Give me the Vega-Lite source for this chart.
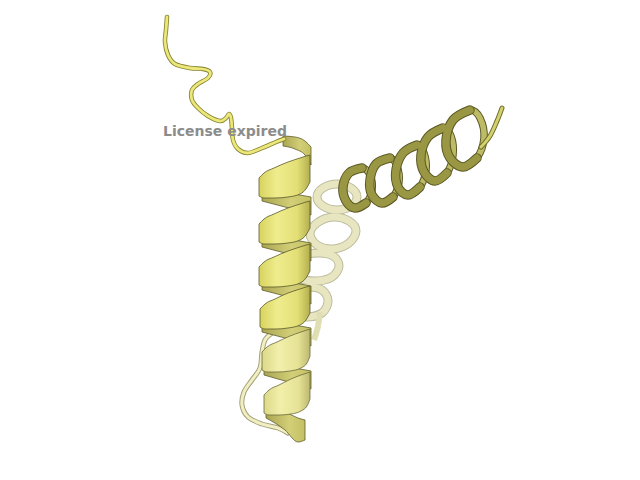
{
  "$schema": "https://vega.github.io/schema/vega-lite/v6.json",
  "width": 640,
  "height": 480,
  "padding": 0,
  "autosize": {"type": "fit", "contains": "padding"},
  "background": "white",
  "config": {"view": {"stroke": null}},
  "datasets": {
    "coil": [
      {"i": 0, "x": 167, "y": 17}, {"i": 1, "x": 166, "y": 30}, {"i": 2, "x": 165, "y": 42},
      {"i": 3, "x": 168, "y": 55}, {"i": 4, "x": 175, "y": 64}, {"i": 5, "x": 190, "y": 68},
      {"i": 6, "x": 203, "y": 69}, {"i": 7, "x": 210, "y": 72}, {"i": 8, "x": 208, "y": 78},
      {"i": 9, "x": 198, "y": 84}, {"i": 10, "x": 192, "y": 90}, {"i": 11, "x": 192, "y": 100},
      {"i": 12, "x": 198, "y": 108}, {"i": 13, "x": 208, "y": 116}, {"i": 14, "x": 220, "y": 121},
      {"i": 15, "x": 226, "y": 118}, {"i": 16, "x": 229, "y": 114}, {"i": 17, "x": 231, "y": 118},
      {"i": 18, "x": 232, "y": 128}, {"i": 19, "x": 233, "y": 140}, {"i": 20, "x": 238, "y": 149},
      {"i": 21, "x": 248, "y": 153}, {"i": 22, "x": 262, "y": 148}, {"i": 23, "x": 276, "y": 142},
      {"i": 24, "x": 284, "y": 139}
    ],
    "loop": [
      {"i": 0, "x": 272, "y": 333}, {"i": 1, "x": 265, "y": 340}, {"i": 2, "x": 262, "y": 352},
      {"i": 3, "x": 260, "y": 368}, {"i": 4, "x": 252, "y": 380}, {"i": 5, "x": 244, "y": 392},
      {"i": 6, "x": 242, "y": 405}, {"i": 7, "x": 248, "y": 417}, {"i": 8, "x": 262, "y": 424},
      {"i": 9, "x": 278, "y": 428}, {"i": 10, "x": 288, "y": 433}
    ],
    "pale": [
      {"ring": "P1", "i": 0, "x": 337, "y": 184}, {"ring": "P1", "i": 1, "x": 351, "y": 188},
      {"ring": "P1", "i": 2, "x": 357, "y": 197}, {"ring": "P1", "i": 3, "x": 351, "y": 206},
      {"ring": "P1", "i": 4, "x": 337, "y": 210}, {"ring": "P1", "i": 5, "x": 323, "y": 206},
      {"ring": "P1", "i": 6, "x": 317, "y": 197}, {"ring": "P1", "i": 7, "x": 323, "y": 188},
      {"ring": "P2", "i": 0, "x": 333, "y": 217}, {"ring": "P2", "i": 1, "x": 349, "y": 221},
      {"ring": "P2", "i": 2, "x": 356, "y": 231}, {"ring": "P2", "i": 3, "x": 349, "y": 243},
      {"ring": "P2", "i": 4, "x": 333, "y": 249}, {"ring": "P2", "i": 5, "x": 317, "y": 245},
      {"ring": "P2", "i": 6, "x": 310, "y": 234}, {"ring": "P2", "i": 7, "x": 317, "y": 223},
      {"ring": "P3", "i": 0, "x": 318, "y": 253}, {"ring": "P3", "i": 1, "x": 333, "y": 256},
      {"ring": "P3", "i": 2, "x": 339, "y": 266}, {"ring": "P3", "i": 3, "x": 332, "y": 277},
      {"ring": "P3", "i": 4, "x": 316, "y": 281}, {"ring": "P3", "i": 5, "x": 300, "y": 278},
      {"ring": "P3", "i": 6, "x": 293, "y": 268}, {"ring": "P3", "i": 7, "x": 300, "y": 257},
      {"ring": "P4", "i": 0, "x": 307, "y": 287}, {"ring": "P4", "i": 1, "x": 322, "y": 290},
      {"ring": "P4", "i": 2, "x": 328, "y": 301}, {"ring": "P4", "i": 3, "x": 322, "y": 313},
      {"ring": "P4", "i": 4, "x": 306, "y": 317}, {"ring": "P4", "i": 5, "x": 290, "y": 313},
      {"ring": "P4", "i": 6, "x": 284, "y": 302}, {"ring": "P4", "i": 7, "x": 290, "y": 291}
    ],
    "paletail": [
      {"i": 0, "x": 320, "y": 312}, {"i": 1, "x": 318, "y": 326}, {"i": 2, "x": 314, "y": 340}
    ],
    "olive": [
      {"ring": "A", "i": 0, "x": 362, "y": 168}, {"ring": "A", "i": 1, "x": 370, "y": 175},
      {"ring": "A", "i": 2, "x": 372, "y": 190}, {"ring": "A", "i": 3, "x": 366, "y": 203},
      {"ring": "A", "i": 4, "x": 355, "y": 208}, {"ring": "A", "i": 5, "x": 346, "y": 201},
      {"ring": "A", "i": 6, "x": 343, "y": 187}, {"ring": "A", "i": 7, "x": 349, "y": 173},
      {"ring": "B", "i": 0, "x": 390, "y": 158}, {"ring": "B", "i": 1, "x": 397, "y": 166},
      {"ring": "B", "i": 2, "x": 399, "y": 182}, {"ring": "B", "i": 3, "x": 393, "y": 197},
      {"ring": "B", "i": 4, "x": 382, "y": 203}, {"ring": "B", "i": 5, "x": 372, "y": 195},
      {"ring": "B", "i": 6, "x": 370, "y": 180}, {"ring": "B", "i": 7, "x": 376, "y": 164},
      {"ring": "C", "i": 0, "x": 417, "y": 145}, {"ring": "C", "i": 1, "x": 424, "y": 153},
      {"ring": "C", "i": 2, "x": 426, "y": 170}, {"ring": "C", "i": 3, "x": 420, "y": 187},
      {"ring": "C", "i": 4, "x": 408, "y": 195}, {"ring": "C", "i": 5, "x": 398, "y": 187},
      {"ring": "C", "i": 6, "x": 396, "y": 170}, {"ring": "C", "i": 7, "x": 403, "y": 153},
      {"ring": "D", "i": 0, "x": 443, "y": 128}, {"ring": "D", "i": 1, "x": 451, "y": 136},
      {"ring": "D", "i": 2, "x": 453, "y": 155}, {"ring": "D", "i": 3, "x": 447, "y": 173},
      {"ring": "D", "i": 4, "x": 435, "y": 181}, {"ring": "D", "i": 5, "x": 424, "y": 172},
      {"ring": "D", "i": 6, "x": 421, "y": 155}, {"ring": "D", "i": 7, "x": 428, "y": 137},
      {"ring": "E", "i": 0, "x": 470, "y": 110}, {"ring": "E", "i": 1, "x": 480, "y": 118},
      {"ring": "E", "i": 2, "x": 484, "y": 138}, {"ring": "E", "i": 3, "x": 477, "y": 158},
      {"ring": "E", "i": 4, "x": 463, "y": 167}, {"ring": "E", "i": 5, "x": 450, "y": 158},
      {"ring": "E", "i": 6, "x": 446, "y": 140}, {"ring": "E", "i": 7, "x": 453, "y": 120}
    ],
    "crescent": [
      {"ring": "A", "i": 0, "x": 362, "y": 168}, {"ring": "A", "i": 1, "x": 349, "y": 173},
      {"ring": "A", "i": 2, "x": 343, "y": 187}, {"ring": "A", "i": 3, "x": 346, "y": 201},
      {"ring": "A", "i": 4, "x": 355, "y": 208}, {"ring": "A", "i": 5, "x": 366, "y": 203},
      {"ring": "B", "i": 0, "x": 390, "y": 158}, {"ring": "B", "i": 1, "x": 376, "y": 164},
      {"ring": "B", "i": 2, "x": 370, "y": 180}, {"ring": "B", "i": 3, "x": 372, "y": 195},
      {"ring": "B", "i": 4, "x": 382, "y": 203}, {"ring": "B", "i": 5, "x": 393, "y": 197},
      {"ring": "C", "i": 0, "x": 417, "y": 145}, {"ring": "C", "i": 1, "x": 403, "y": 153},
      {"ring": "C", "i": 2, "x": 396, "y": 170}, {"ring": "C", "i": 3, "x": 398, "y": 187},
      {"ring": "C", "i": 4, "x": 408, "y": 195}, {"ring": "C", "i": 5, "x": 420, "y": 187},
      {"ring": "D", "i": 0, "x": 443, "y": 128}, {"ring": "D", "i": 1, "x": 428, "y": 137},
      {"ring": "D", "i": 2, "x": 421, "y": 155}, {"ring": "D", "i": 3, "x": 424, "y": 172},
      {"ring": "D", "i": 4, "x": 435, "y": 181}, {"ring": "D", "i": 5, "x": 447, "y": 173},
      {"ring": "E", "i": 0, "x": 470, "y": 110}, {"ring": "E", "i": 1, "x": 453, "y": 120},
      {"ring": "E", "i": 2, "x": 446, "y": 140}, {"ring": "E", "i": 3, "x": 450, "y": 158},
      {"ring": "E", "i": 4, "x": 463, "y": 167}, {"ring": "E", "i": 5, "x": 477, "y": 158}
    ],
    "tail": [
      {"i": 0, "x": 481, "y": 147}, {"i": 1, "x": 490, "y": 136}, {"i": 2, "x": 497, "y": 121},
      {"i": 3, "x": 502, "y": 108}
    ],
    "back": [
      {"turn": 0, "x": 283, "y": 136, "y2": 146}, {"turn": 0, "x": 295, "y": 137, "y2": 149},
      {"turn": 0, "x": 305, "y": 141, "y2": 155}, {"turn": 0, "x": 311, "y": 147, "y2": 165},
      {"turn": 1, "x": 262, "y": 191, "y2": 201}, {"turn": 1, "x": 285, "y": 193, "y2": 207},
      {"turn": 1, "x": 300, "y": 195, "y2": 211}, {"turn": 1, "x": 311, "y": 197, "y2": 215},
      {"turn": 2, "x": 262, "y": 237, "y2": 247}, {"turn": 2, "x": 285, "y": 239, "y2": 253},
      {"turn": 2, "x": 300, "y": 241, "y2": 257}, {"turn": 2, "x": 311, "y": 243, "y2": 261},
      {"turn": 3, "x": 262, "y": 280, "y2": 290}, {"turn": 3, "x": 285, "y": 282, "y2": 296},
      {"turn": 3, "x": 300, "y": 284, "y2": 300}, {"turn": 3, "x": 311, "y": 286, "y2": 304},
      {"turn": 4, "x": 262, "y": 322, "y2": 332}, {"turn": 4, "x": 285, "y": 324, "y2": 338},
      {"turn": 4, "x": 300, "y": 326, "y2": 342}, {"turn": 4, "x": 311, "y": 328, "y2": 346},
      {"turn": 5, "x": 264, "y": 365, "y2": 375}, {"turn": 5, "x": 285, "y": 367, "y2": 381},
      {"turn": 5, "x": 300, "y": 369, "y2": 385}, {"turn": 5, "x": 311, "y": 371, "y2": 389},
      {"turn": 6, "x": 266, "y": 408, "y2": 418}, {"turn": 6, "x": 285, "y": 412, "y2": 430},
      {"turn": 6, "x": 298, "y": 418, "y2": 442}, {"turn": 6, "x": 305, "y": 420, "y2": 440}
    ],
    "front": [
      {"turn": 1, "x": 259, "y": 178, "y2": 196}, {"turn": 1, "x": 264, "y": 173, "y2": 198},
      {"turn": 1, "x": 274, "y": 168, "y2": 198}, {"turn": 1, "x": 288, "y": 162, "y2": 197},
      {"turn": 1, "x": 300, "y": 158, "y2": 194}, {"turn": 1, "x": 306, "y": 156, "y2": 189},
      {"turn": 1, "x": 310, "y": 155, "y2": 182},
      {"turn": 2, "x": 259, "y": 224, "y2": 242}, {"turn": 2, "x": 264, "y": 219, "y2": 244},
      {"turn": 2, "x": 274, "y": 214, "y2": 244}, {"turn": 2, "x": 288, "y": 208, "y2": 243},
      {"turn": 2, "x": 300, "y": 204, "y2": 240}, {"turn": 2, "x": 306, "y": 202, "y2": 235},
      {"turn": 2, "x": 310, "y": 201, "y2": 228},
      {"turn": 3, "x": 259, "y": 267, "y2": 285}, {"turn": 3, "x": 264, "y": 262, "y2": 287},
      {"turn": 3, "x": 274, "y": 257, "y2": 287}, {"turn": 3, "x": 288, "y": 251, "y2": 286},
      {"turn": 3, "x": 300, "y": 247, "y2": 283}, {"turn": 3, "x": 306, "y": 245, "y2": 278},
      {"turn": 3, "x": 310, "y": 244, "y2": 271},
      {"turn": 4, "x": 260, "y": 309, "y2": 327}, {"turn": 4, "x": 265, "y": 304, "y2": 329},
      {"turn": 4, "x": 275, "y": 299, "y2": 329}, {"turn": 4, "x": 288, "y": 293, "y2": 328},
      {"turn": 4, "x": 300, "y": 289, "y2": 325}, {"turn": 4, "x": 306, "y": 287, "y2": 320},
      {"turn": 4, "x": 310, "y": 286, "y2": 313},
      {"turn": 5, "x": 262, "y": 352, "y2": 370}, {"turn": 5, "x": 267, "y": 347, "y2": 372},
      {"turn": 5, "x": 277, "y": 342, "y2": 372}, {"turn": 5, "x": 290, "y": 336, "y2": 371},
      {"turn": 5, "x": 301, "y": 332, "y2": 368}, {"turn": 5, "x": 307, "y": 330, "y2": 363},
      {"turn": 5, "x": 310, "y": 329, "y2": 356},
      {"turn": 6, "x": 264, "y": 395, "y2": 413}, {"turn": 6, "x": 269, "y": 390, "y2": 415},
      {"turn": 6, "x": 279, "y": 385, "y2": 415}, {"turn": 6, "x": 291, "y": 379, "y2": 414},
      {"turn": 6, "x": 301, "y": 375, "y2": 411}, {"turn": 6, "x": 307, "y": 373, "y2": 406},
      {"turn": 6, "x": 310, "y": 372, "y2": 399}
    ],
    "label": [
      {"x": 163, "y": 136, "t": "License expired"}
    ]
  },
  "encoding": {
    "x": {"field": "x", "type": "quantitative", "axis": null,
          "scale": {"domain": [0, 640], "nice": false, "zero": false}},
    "y": {"field": "y", "type": "quantitative", "axis": null,
          "scale": {"domain": [0, 480], "reverse": true, "nice": false, "zero": false}}
  },
  "layer": [
    {
      "data": {"name": "pale"},
      "mark": {"type": "line", "interpolate": "cardinal-closed", "color": "#bdbc9e", "strokeWidth": 9},
      "encoding": {"detail": {"field": "ring"}, "order": {"field": "i"}}
    },
    {
      "data": {"name": "pale"},
      "mark": {"type": "line", "interpolate": "cardinal-closed", "color": "#e7e6c0", "strokeWidth": 7},
      "encoding": {"detail": {"field": "ring"}, "order": {"field": "i"}}
    },
    {
      "data": {"name": "paletail"},
      "mark": {"type": "line", "interpolate": "cardinal", "color": "#e0dfb4", "strokeWidth": 6},
      "encoding": {"order": {"field": "i"}}
    },
    {
      "data": {"name": "olive"},
      "mark": {"type": "line", "interpolate": "cardinal-closed", "color": "#5c5a24", "strokeWidth": 7.5},
      "encoding": {"detail": {"field": "ring"}, "order": {"field": "i"}}
    },
    {
      "data": {"name": "olive"},
      "mark": {"type": "line", "interpolate": "cardinal-closed", "color": "#bebb66", "strokeWidth": 5.5},
      "encoding": {"detail": {"field": "ring"}, "order": {"field": "i"}}
    },
    {
      "data": {"name": "crescent"},
      "mark": {"type": "line", "interpolate": "cardinal", "color": "#5c5a24", "strokeWidth": 9.5, "strokeCap": "round"},
      "encoding": {"detail": {"field": "ring"}, "order": {"field": "i"}}
    },
    {
      "data": {"name": "crescent"},
      "mark": {"type": "line", "interpolate": "cardinal", "color": "#9a9744", "strokeWidth": 7.5, "strokeCap": "round"},
      "encoding": {"detail": {"field": "ring"}, "order": {"field": "i"}}
    },
    {
      "data": {"name": "tail"},
      "mark": {"type": "line", "interpolate": "cardinal", "color": "#6d6b2a", "strokeWidth": 5, "strokeCap": "round"},
      "encoding": {"order": {"field": "i"}}
    },
    {
      "data": {"name": "tail"},
      "mark": {"type": "line", "interpolate": "cardinal", "color": "#d3d06e", "strokeWidth": 3, "strokeCap": "round"},
      "encoding": {"order": {"field": "i"}}
    },
    {
      "data": {"name": "loop"},
      "mark": {"type": "line", "interpolate": "cardinal", "color": "#a3a17a", "strokeWidth": 5, "strokeCap": "round"},
      "encoding": {"order": {"field": "i"}}
    },
    {
      "data": {"name": "loop"},
      "mark": {"type": "line", "interpolate": "cardinal", "color": "#f1efc2", "strokeWidth": 3, "strokeCap": "round"},
      "encoding": {"order": {"field": "i"}}
    },
    {
      "data": {"name": "back"},
      "mark": {
        "type": "area", "interpolate": "monotone", "stroke": "#5f5d2c", "strokeWidth": 0.8,
        "fill": {"gradient": "linear", "x1": 0, "y1": 0, "x2": 1, "y2": 0,
                 "stops": [{"offset": 0, "color": "#a9a552"}, {"offset": 0.6, "color": "#d3cf78"}, {"offset": 1, "color": "#c3bf62"}]}
      },
      "encoding": {"y2": {"field": "y2"}, "detail": {"field": "turn"}}
    },
    {
      "data": {"name": "front"},
      "transform": [{"filter": "datum.turn <= 4"}],
      "mark": {
        "type": "area", "interpolate": "monotone", "stroke": "#5b592a", "strokeWidth": 0.8,
        "fill": {"gradient": "linear", "x1": 0, "y1": 0, "x2": 1, "y2": 0,
                 "stops": [{"offset": 0, "color": "#d7d35f"}, {"offset": 0.35, "color": "#efec8e"},
                           {"offset": 0.75, "color": "#e3df76"}, {"offset": 1, "color": "#b3af4e"}]}
      },
      "encoding": {"y2": {"field": "y2"}, "detail": {"field": "turn"}}
    },
    {
      "data": {"name": "front"},
      "transform": [{"filter": "datum.turn > 4"}],
      "mark": {
        "type": "area", "interpolate": "monotone", "stroke": "#6b6a3c", "strokeWidth": 0.8,
        "fill": {"gradient": "linear", "x1": 0, "y1": 0, "x2": 1, "y2": 0,
                 "stops": [{"offset": 0, "color": "#dcd98a"}, {"offset": 0.35, "color": "#f1efaa"},
                           {"offset": 0.75, "color": "#e6e396"}, {"offset": 1, "color": "#bcb970"}]}
      },
      "encoding": {"y2": {"field": "y2"}, "detail": {"field": "turn"}}
    },
    {
      "data": {"name": "coil"},
      "mark": {"type": "line", "interpolate": "cardinal", "color": "#85832f", "strokeWidth": 4.5, "strokeCap": "round"},
      "encoding": {"order": {"field": "i"}}
    },
    {
      "data": {"name": "coil"},
      "mark": {"type": "line", "interpolate": "cardinal", "color": "#ebe77a", "strokeWidth": 2.8, "strokeCap": "round"},
      "encoding": {"order": {"field": "i"}}
    },
    {
      "data": {"name": "label"},
      "mark": {"type": "text", "align": "left", "baseline": "alphabetic", "font": "DejaVu Sans",
               "fontWeight": "bold", "fontSize": 14, "color": "#8c8c8c"},
      "encoding": {"text": {"field": "t"}}
    }
  ]
}
